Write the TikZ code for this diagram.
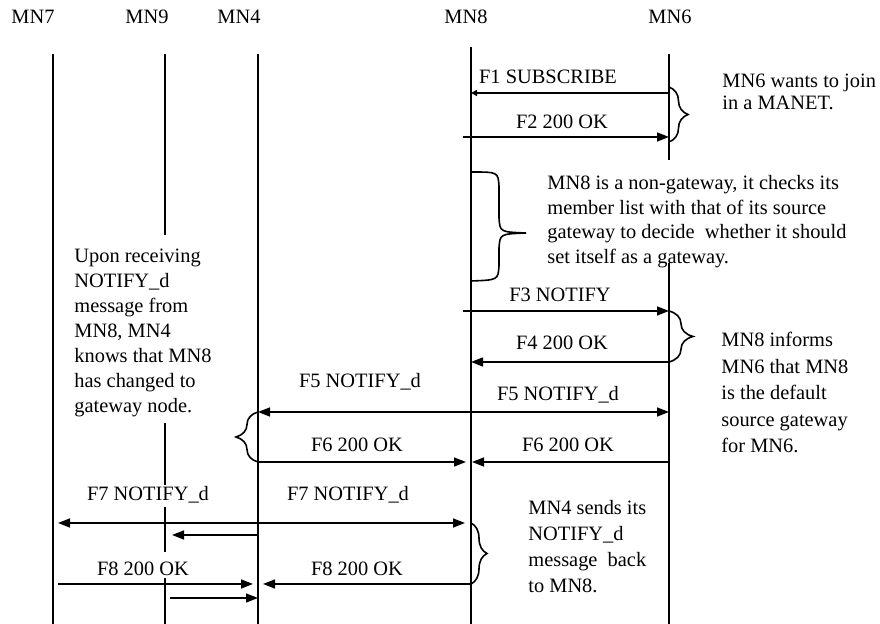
\documentclass[tikz,border=0pt]{standalone}
\usepackage{fontspec}
\setmainfont{Liberation Serif}
\usetikzlibrary{arrows.meta,decorations.pathreplacing}
\tikzset{
  life/.style={line width=1.1pt},
  msg/.style={line width=0.8pt,-{Triangle[length=6pt,width=4.5pt]}},
  lbl/.style={inner sep=0pt,font=\fontsize{10.2pt}{12.25pt}\selectfont},
  note/.style={inner sep=0pt,align=left,anchor=north west,font=\fontsize{10.2pt}{12.25pt}\selectfont},
  brc/.style={line width=0.8pt,decorate,decoration={brace,amplitude=#1}},
}
\begin{document}
\begin{tikzpicture}[x=0.5pt,y=-0.5pt]
\useasboundingbox (0,0) rectangle (880,624);
% headers
\node[lbl] (h7) at (33,17) {MN7};
\node[lbl] (h9) at (147,17) {MN9};
\node[lbl] (h4) at (239,17) {MN4};
\node[lbl] (h8) at (466,17) {MN8};
\node[lbl] (h6) at (670,17) {MN6};
% lifelines
\draw[life] (53,54) -- (53,624);
\draw[life] (165,54) -- (165,235);
\draw[life] (165,423) -- (165,485);
\draw[life] (165,507) -- (165,552);
\draw[life] (165,578) -- (165,624);
\draw[life] (258,54) -- (258,624);
\draw[life] (471,47) -- (471,624);
\draw[life] (669,54) -- (669,160);
\draw[life] (669,263) -- (669,624);
% F1, F2
\coordinate (f1a) at (669,93); \coordinate (f1b) at (471,93);
\draw[msg,-{Triangle[length=3pt,width=3pt]}] (f1a) -- (f1b);
\node[lbl] (t1) at (548,77) {F1 SUBSCRIBE};
\coordinate (f2a) at (463,137); \coordinate (f2b) at (669,137);
\draw[msg] (f2a) -- (f2b);
\node[lbl] (t2) at (562,122) {F2 200 OK};
\draw[brc=9.5pt] (669,87) -- (669,142);
\node[note,font=\fontsize{10.2pt}{11pt}\selectfont] (n1) at (722,74) {MN6 wants to join\\in a MANET.};
% big brace at MN8
\draw[line width=0.8pt] (471,172) .. controls (498,172) .. (499,186) -- (499,218)
  .. controls (500,232) .. (526,233) .. controls (500,234) .. (499,248) -- (499,266)
  .. controls (498,280) .. (471,281);
\node[note] (n2) at (547,175) {MN8 is a non-gateway, it checks its\\member list with that of its source\\gateway to decide\ \ whether it should\\set itself as a gateway.};
% F3, F4
\coordinate (f3a) at (463,311); \coordinate (f3b) at (669,311);
\draw[msg] (f3a) -- (f3b);
\node[lbl] (t3) at (560,295) {F3 NOTIFY};
\coordinate (f4a) at (669,362); \coordinate (f4b) at (471,362);
\draw[msg] (f4a) -- (f4b);
\node[lbl] (t4) at (562,343) {F4 200 OK};
\draw[brc=12pt] (669,311) -- (669,362);
\node[note,font=\fontsize{10.2pt}{13.25pt}\selectfont] (n3) at (721,332) {MN8 informs\\MN6 that MN8\\is the default\\source gateway\\for MN6.};
% F5
\coordinate (f5a) at (465,412); \coordinate (f5b) at (258,412);
\coordinate (f5c) at (463,412); \coordinate (f5d) at (669,412);
\draw[msg] (f5a) -- (f5b);
\draw[msg] (f5c) -- (f5d);
\node[lbl] (t5l) at (360,382) {F5 NOTIFY\_d};
\node[lbl] (t5r) at (558,395) {F5 NOTIFY\_d};
% F6
\coordinate (f6a) at (258,462); \coordinate (f6b) at (466,462);
\coordinate (f6c) at (669,462); \coordinate (f6d) at (472,462);
\draw[msg] (f6a) -- (f6b);
\draw[msg] (f6c) -- (f6d);
\node[lbl] (t6l) at (357,445) {F6 200 OK};
\node[lbl] (t6r) at (568,445) {F6 200 OK};
\draw[brc=11pt] (258,462) -- (258,412);
\node[note,font=\fontsize{10.2pt}{12.5pt}\selectfont] (n4) at (74,249) {Upon receiving\\NOTIFY\_d\\message from\\MN8, MN4\\knows that MN8\\has changed to\\gateway node.};
% F7
\coordinate (f7a) at (258,523); \coordinate (f7b) at (58,523);
\coordinate (f7c) at (258,535); \coordinate (f7d) at (172,535);
\coordinate (f7e) at (258,523); \coordinate (f7f) at (465,523);
\draw[msg] (f7a) -- (f7b);
\draw[msg] (f7c) -- (f7d);
\draw[msg] (f7e) -- (f7f);
\node[lbl] (t7l) at (148,495) {F7 NOTIFY\_d};
\node[lbl] (t7r) at (348,495) {F7 NOTIFY\_d};
% F8
\coordinate (f8a) at (58,584); \coordinate (f8b) at (253,584);
\coordinate (f8c) at (170,598); \coordinate (f8d) at (258,598);
\coordinate (f8e) at (471,584); \coordinate (f8f) at (263,584);
\draw[msg] (f8a) -- (f8b);
\draw[msg] (f8c) -- (f8d);
\draw[msg] (f8e) -- (f8f);
\node[lbl] (t8l) at (143,569) {F8 200 OK};
\node[lbl] (t8r) at (357,569) {F8 200 OK};
\draw[brc=8pt] (471,523) -- (471,584);
\node[note,font=\fontsize{10.2pt}{13pt}\selectfont] (n5) at (528,500) {MN4 sends its\\NOTIFY\_d\\message\ \ back\\to MN8.};
\end{tikzpicture}
\end{document}
